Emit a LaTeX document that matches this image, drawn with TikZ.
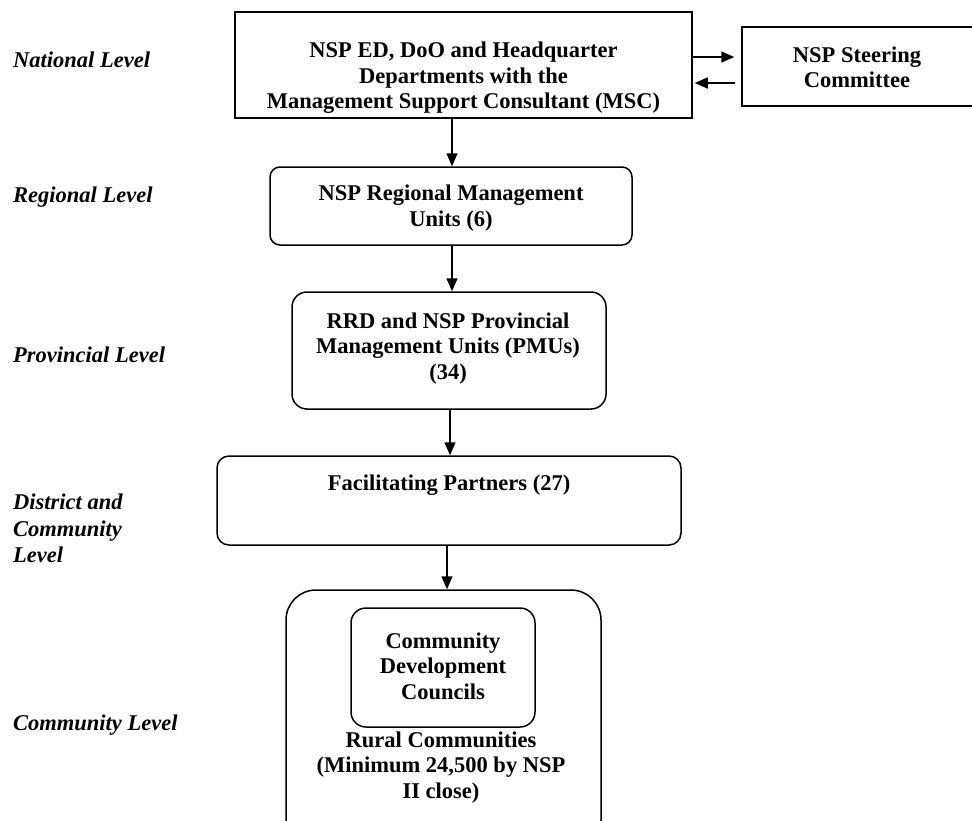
\documentclass[tikz,border=0pt]{standalone}
\usepackage{fontspec}
\setmainfont{Liberation Serif}
\usetikzlibrary{arrows.meta}
\begin{document}
\begin{tikzpicture}[x=1pt,y=-1pt,
  frame/.style={draw, line width=1.5pt, rectangle, inner sep=0pt},
  rframe/.style={frame, rounded corners=#1},
  txt/.style={font=\fontsize{22.5}{25.5}\selectfont\bfseries, align=center, inner sep=0pt, anchor=center},
  lvl/.style={font=\fontsize{22.5}{26.5}\selectfont\bfseries\itshape, align=left, inner sep=0pt, anchor=west},
  arr/.style={line width=1.5pt, -{Triangle[length=13pt,width=11pt]}}]
\useasboundingbox (0,0) rectangle (972,820);

% level labels
\node[lvl] (l1) at (13,60) {National Level};
\node[lvl] (l2) at (13,197) {Regional Level};
\node[lvl] (l3) at (13,355) {Provincial Level};
\node[lvl] (l4) at (13,528.5) {District and\\Community\\Level};
\node[lvl] (l5) at (13,725) {Community Level};

% boxes
\node[frame, minimum width=457pt, minimum height=106pt] (nat) at (463.5,65) {};
\node[frame, minimum width=248pt, minimum height=79pt] (steer) at (866,66.5) {};
\node[rframe=10pt, minimum width=362pt, minimum height=78pt] (reg) at (451,206) {};
\node[rframe=15pt, minimum width=314pt, minimum height=117pt] (prov) at (449,350.5) {};
\node[rframe=12pt, minimum width=464pt, minimum height=89pt] (fac) at (449,500.5) {};
\node[rframe=30pt, minimum width=315pt, minimum height=260pt] (outer) at (443.5,720) {};
\node[rframe=15pt, minimum width=184pt, minimum height=119pt] (inner) at (443,667.5) {};

% texts
\node[txt] (tnat) at (463.5,78) {NSP ED, DoO and Headquarter\\Departments with the\\Management Support Consultant (MSC)};
\node[txt] (tsteer) at (857,67.5) {NSP Steering\\Committee};
\node[txt] (treg) at (451,208) {NSP Regional Management\\Units (6)};
\node[txt] (tprov) at (448,348.5) {RRD and NSP Provincial\\Management Units (PMUs)\\(34)};
\node[txt] (tfac) at (449,485) {Facilitating Partners (27)};
\node[txt] (tinner) at (443,666) {Community\\Development\\Councils};
\node[txt] (trural) at (441,767.5) {Rural Communities\\(Minimum 24,500 by NSP\\II close)};

% connectors
\coordinate (c1) at (452,0);
\coordinate (c2) at (450,0);
\coordinate (c3) at (447,0);
\coordinate (h1) at (0,57);
\coordinate (h2) at (0,83);
\draw[arr] (nat.south -| c1) -- (reg.north -| c1);
\draw[arr] (reg.south -| c1) -- (prov.north -| c1);
\draw[arr] (prov.south -| c2) -- (fac.north -| c2);
\draw[arr] (fac.south -| c3) -- (outer.north -| c3);
\draw[arr, shorten >=7pt] (nat.east |- h1) -- (steer.west |- h1);
\draw[arr, shorten <=6pt, shorten >=2pt] (steer.west |- h2) -- (nat.east |- h2);
\end{tikzpicture}
\end{document}
